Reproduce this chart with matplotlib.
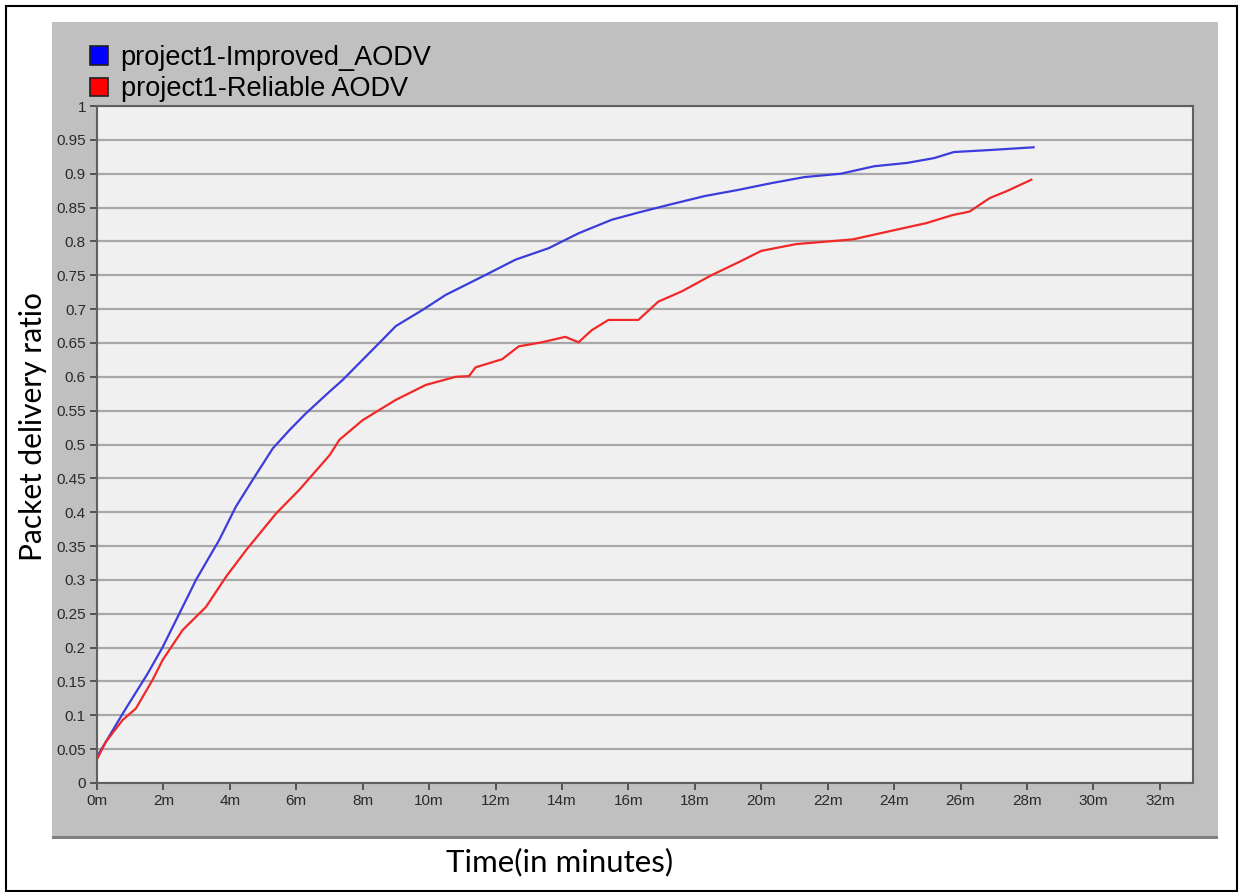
import matplotlib.pyplot as plt
import numpy as np
from matplotlib.patches import Rectangle, Patch

# values (time in minutes, delivery ratio)
improved_t = [0.0, 0.78, 1.53, 1.98, 2.78, 2.98, 3.68, 4.18, 4.69, 5.29, 5.79, 6.29, 7.0, 7.39,
              8.5, 9.0, 9.81, 10.5, 11.6, 12.6, 13.6, 14.5, 15.5, 16.33, 17.3, 18.3, 19.3,
              20.3, 21.3, 22.4, 23.4, 24.4, 25.2, 25.8, 26.9, 28.2]
improved_v = [0.039, 0.103, 0.162, 0.201, 0.280, 0.300, 0.359, 0.408, 0.448, 0.494, 0.521, 0.546,
              0.578, 0.595, 0.650, 0.675, 0.699, 0.721, 0.748, 0.773, 0.790, 0.812, 0.832, 0.843,
              0.855, 0.867, 0.876, 0.886, 0.895, 0.900, 0.911, 0.916, 0.923, 0.932, 0.935, 0.939]

reliable_t = [0.02, 0.27, 0.77, 1.17, 1.67, 1.98, 2.58, 3.28, 3.89, 4.49, 5.39, 6.09, 7.0, 7.3,
              8.0, 9.0, 9.9, 10.8, 11.2, 11.4, 12.2, 12.7, 13.4, 14.1, 14.5, 14.9, 15.4, 16.3,
              16.9, 17.6, 18.5, 19.35, 20.0, 21.05, 22.76, 23.86, 24.97, 25.77, 26.27, 26.88,
              27.38, 28.13]
reliable_v = [0.037, 0.061, 0.093, 0.110, 0.152, 0.182, 0.226, 0.260, 0.305, 0.344, 0.398, 0.433,
              0.484, 0.507, 0.536, 0.566, 0.588, 0.600, 0.601, 0.614, 0.626, 0.645, 0.651, 0.659,
              0.651, 0.669, 0.684, 0.684, 0.711, 0.726, 0.750, 0.770, 0.786, 0.796, 0.803, 0.815,
              0.827, 0.839, 0.844, 0.864, 0.874, 0.891]

labels = ['project1-Improved_AODV', 'project1-Reliable AODV']
x_ticks = list(range(0, 33, 2))
y_ticks = [i * 0.05 for i in range(21)]

W, H = 1239, 892
fig = plt.figure(figsize=(W / 100, H / 100), dpi=100)
fig.patch.set_facecolor('white')

def px_rect(x0, y0, x1, y1, **kw):
    return Rectangle((x0 / W, 1 - y1 / H), (x1 - x0) / W, (y1 - y0) / H,
                     transform=fig.transFigure, zorder=-5, **kw)

# outer frame and grey panel
fig.patches.append(px_rect(6, 6, 1237, 891, facecolor='none', edgecolor='black', lw=1.5))
fig.patches.append(px_rect(52, 22, 1218, 839, facecolor='#c0c0c0', edgecolor='none'))
fig.patches.append(px_rect(52, 836, 1218, 839, facecolor='#808080', edgecolor='none'))

ax = fig.add_axes([97 / W, 1 - 783 / H, (1193 - 97) / W, (783 - 106) / H])
ax.set_facecolor('#f0f0f0')
ax.plot(improved_t, improved_v, color='#3c3cdc', lw=1.6)
ax.plot(reliable_t, reliable_v, color='#f02828', lw=1.6)

ax.set_xlim(0, 33)
ax.set_ylim(0, 1.0)
ax.set_xticks(x_ticks)
ax.set_xticklabels([f'{m}m' for m in x_ticks])
ax.set_yticks(y_ticks)
ax.set_yticklabels([f'{v:g}' for v in np.round(y_ticks, 2)])
ax.grid(axis='y', color='#a8a8a8', lw=1.6)
ax.set_axisbelow(True)
for s in ax.spines.values():
    s.set_color('#606060')
    s.set_linewidth(1.5)
ax.tick_params(axis='both', colors='#404040', labelsize=11, length=5, width=1.2, pad=3)
for lab in ax.get_xticklabels() + ax.get_yticklabels():
    lab.set_family('Liberation Sans')
    lab.set_color('#2a2a2a')

handles = [Patch(facecolor='#0000ff', edgecolor='#202020', lw=1.2),
           Patch(facecolor='#ff0000', edgecolor='#202020', lw=1.2)]
fig.legend(handles, labels, loc='upper left', bbox_to_anchor=(90 / W, 1 - 45 / H),
           frameon=False, prop={'family': 'Liberation Sans', 'size': 19.5},
           handlelength=0.68, handleheight=0.68, handletextpad=0.45, labelspacing=0.2,
           borderaxespad=0, borderpad=0)

fig.text(33 / W, 1 - 427 / H, 'Packet delivery ratio', rotation=90, ha='center', va='center',
         family='Lato', fontsize=21.5)
fig.text(560 / W, 1 - 862 / H, 'Time(in minutes)', ha='center', va='center',
         family='Lato', fontsize=22.5)

fig.savefig('out.png', dpi=100)
